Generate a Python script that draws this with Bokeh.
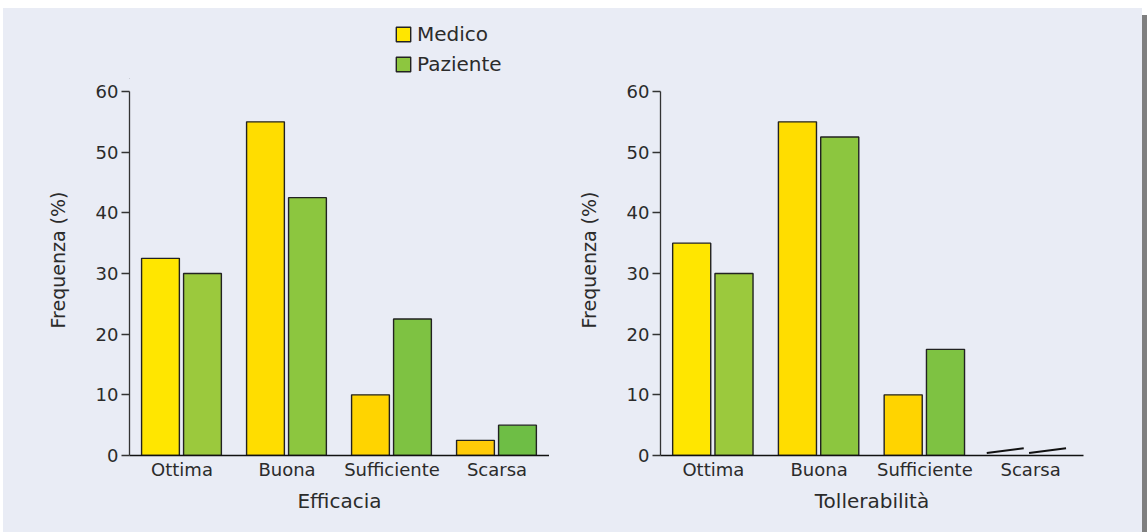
from bokeh.plotting import figure
from bokeh.models import (FactorRange, Range1d, Legend, LegendItem, ColumnDataSource,
                          Div, Spacer, FixedTicker, Title)
from bokeh.transform import dodge
from bokeh.layouts import row, column
from bokeh.embed import file_html
from bokeh.resources import INLINE

# ---------------- data ----------------
categories = ["Ottima", "Buona", "Sufficiente", "Scarsa"]
series_names = ["Medico", "Paziente"]
efficacia_medico = [32.5, 55, 10, 2.5]
efficacia_paziente = [30, 42.5, 22.5, 5]
tollerabilita_medico = [35, 55, 10, 0]
tollerabilita_paziente = [30, 52.5, 17.5, 0]
y_ticks = [0, 10, 20, 30, 40, 50, 60]
x_titles = ["Efficacia", "Tollerabilità"]
y_title = "Frequenza (%)"

# ---------------- style ----------------
medico_colors = ["#FFE600", "#FFDD00", "#FFD400", "#FFCB08"]
paziente_colors = ["#9BC93D", "#8CC63F", "#7EC242", "#6EBE45"]
legend_colors = ["#FFE600", "#8DC63F"]
BG = "#E9ECF5"
TXT = "#2B2B2B"
FONT = "DejaVu Sans"
BAR_W = 0.36
OFFS = [-0.205, 0.195]


def style_bg(p):
    p.background_fill_color = BG
    p.border_fill_color = BG
    p.outline_line_color = None
    p.xgrid.visible = False
    p.ygrid.visible = False


def make_panel(title, medico, paziente, width, height, bl, br, bt):
    p = figure(width=width, height=height, x_range=FactorRange(*categories, range_padding=0),
               y_range=Range1d(0, 60), output_backend="svg", toolbar_location=None,
               min_border_left=bl, min_border_right=br, min_border_top=bt, min_border_bottom=77)
    style_bg(p)

    for vals, cols, off in [(medico, medico_colors, OFFS[0]), (paziente, paziente_colors, OFFS[1])]:
        keep = [i for i, v in enumerate(vals) if v > 0]
        zero = [i for i, v in enumerate(vals) if v <= 0]
        src = ColumnDataSource(dict(cat=[categories[i] for i in keep],
                                    top=[vals[i] for i in keep],
                                    color=[cols[i] for i in keep]))
        p.vbar(x=dodge("cat", off, range=p.x_range), top="top", width=BAR_W, source=src,
               fill_color="color", line_color="#222222", line_width=1.4)
        if zero:
            # zero-valued bars are shown as a thin slanted stroke
            zsrc = ColumnDataSource(dict(cat=[categories[i] for i in zero],
                                         y0=[vals[i] + 0.4 for i in zero],
                                         y1=[vals[i] + 1.2 for i in zero]))
            p.segment(x0=dodge("cat", off - BAR_W / 2 - 0.03, range=p.x_range), y0="y0",
                      x1=dodge("cat", off + BAR_W / 2 - 0.04, range=p.x_range), y1="y1",
                      source=zsrc, line_color="#111111", line_width=2)

    xa = p.xaxis[0]
    xa.axis_label = title
    xa.axis_line_color = "#111111"
    xa.axis_line_width = 1.3
    xa.major_tick_line_color = None
    xa.minor_tick_line_color = None
    xa.major_tick_out = 0
    xa.major_label_standoff = 3
    xa.major_label_text_font = FONT
    xa.major_label_text_font_size = "18px"
    xa.major_label_text_color = TXT
    xa.axis_label_text_font = FONT
    xa.axis_label_text_font_size = "20px"
    xa.axis_label_text_font_style = "normal"
    xa.axis_label_text_color = TXT
    xa.axis_label_standoff = 6

    ya = p.yaxis[0]
    ya.ticker = FixedTicker(ticks=y_ticks)
    ya.axis_line_color = "#333333"
    ya.axis_line_width = 1.3
    ya.major_tick_line_color = "#333333"
    ya.major_tick_line_width = 1.3
    ya.major_tick_out = 8
    ya.major_tick_in = 0
    ya.minor_tick_line_color = None
    ya.major_label_standoff = 3
    ya.major_label_text_font = FONT
    ya.major_label_text_font_size = "18px"
    ya.major_label_text_color = TXT

    ytitle = Title(text=y_title, align="left", offset=127, vertical_align="middle", standoff=45,
                   text_font=FONT, text_font_size="19px", text_font_style="normal",
                   text_color=TXT)
    p.add_layout(ytitle, "left")
    return p


# legend strip above the left chart
lf = figure(width=546, height=71, x_range=Range1d(0, 1), y_range=Range1d(0, 1),
            x_axis_location=None, y_axis_location=None, output_backend="svg",
            toolbar_location=None, min_border=0)
style_bg(lf)
# legend proxies: one bar each, placed far outside the visible range so only the legend shows them
dummies = [lf.vbar(x=[-5], top=[-5], bottom=[-10], width=0.1, fill_color=c,
                   line_color="#222222", line_width=1.4)
           for c in legend_colors]
leg = Legend(items=[LegendItem(label=n, renderers=[d]) for n, d in zip(series_names, dummies)],
             location=(265, 3), orientation="vertical",
             glyph_width=18, glyph_height=18, label_standoff=5, spacing=6,
             label_height=18, padding=0, margin=0,
             border_line_alpha=0, background_fill_alpha=0,
             label_text_font=FONT, label_text_font_size="20px", label_text_color=TXT)
lf.add_layout(leg, "center")

left = make_panel(x_titles[0], efficacia_medico, efficacia_paziente, 546, 453, 126, 0, 12)
right = make_panel(x_titles[1], tollerabilita_medico, tollerabilita_paziente, 593, 524, 111, 59, 83)

bar = Div(text='<div style="width:5px;height:517px;background-color:#7F7F7F"></div>',
          width=5, height=517, margin=0)
charts = row(column(lf, left, spacing=0), right, spacing=0, styles={"background-color": BG})
layout = column(Spacer(height=8),
                row(Spacer(width=3), charts, column(Spacer(height=7), bar, spacing=0), spacing=0),
                spacing=0)

open("out.html", "w").write(file_html(layout, INLINE))
